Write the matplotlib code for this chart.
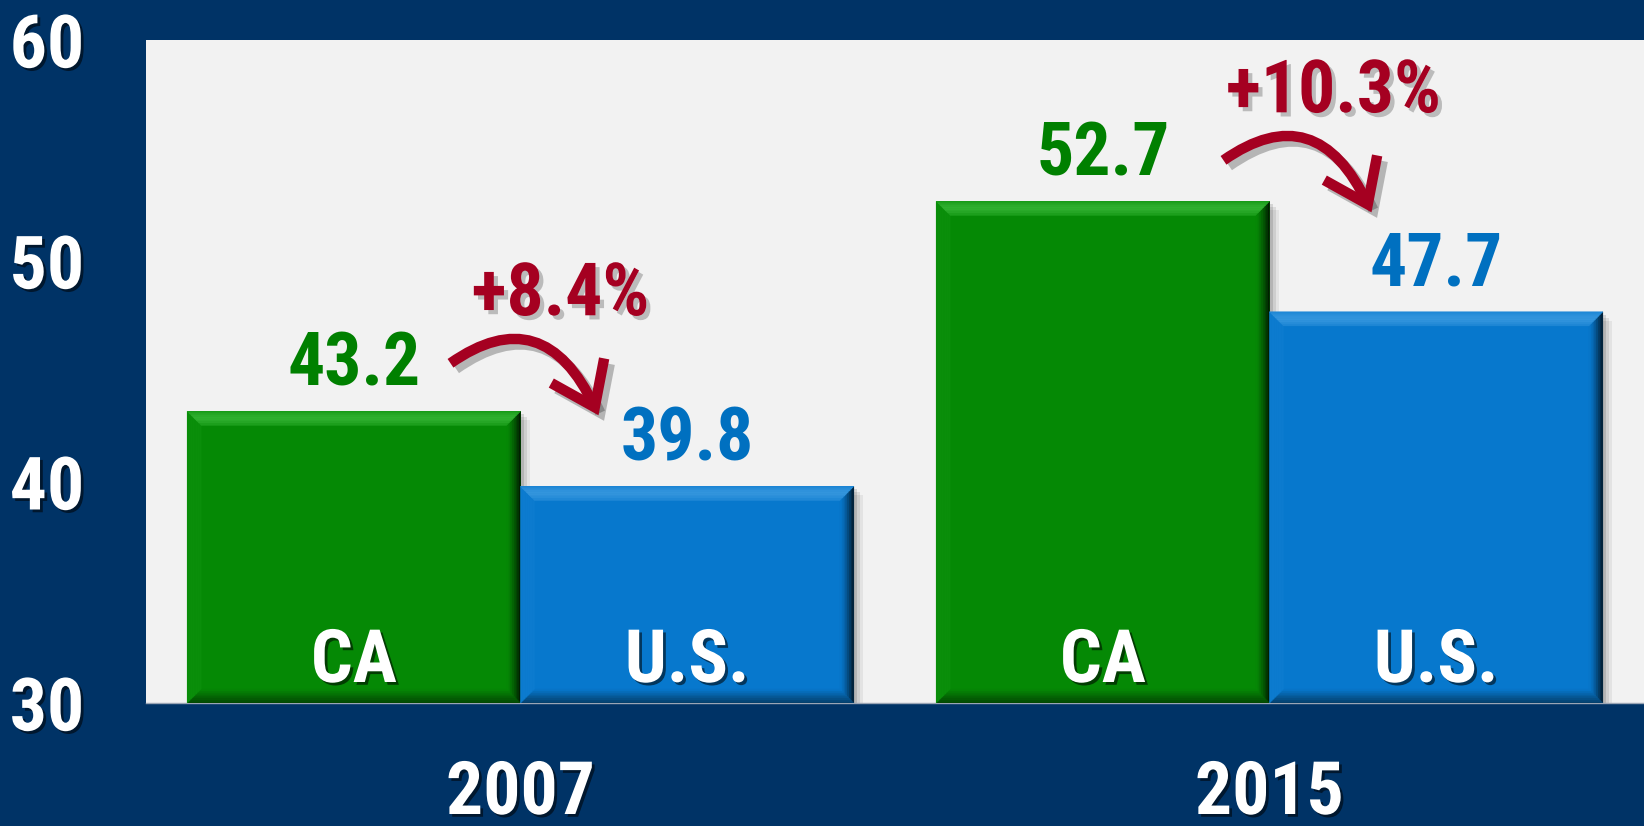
import matplotlib
matplotlib.use('Agg')
import matplotlib.pyplot as plt
import matplotlib.patheffects as pe
from matplotlib import font_manager
from matplotlib.patches import Polygon, FancyArrowPatch, Rectangle
from matplotlib.colors import to_rgb
import numpy as np

# ---------------- data ----------------
years = ['2007', '2015']
series_names = ['CA', 'U.S.']
ca_values = [43.2, 52.7]
us_values = [39.8, 47.7]
pct_labels = ['+8.4%', '+10.3%']
y_ticks = [30, 40, 50, 60]

# ---------------- style / layout ----------------
W, H, DPI = 1644, 826, 100
NAVY = '#003366'
PLOT_BG = '#F2F2F2'
GREEN = '#058905'
BLUE = '#0778CD'
GREEN_HI = '#2FB02F'
BLUE_HI = '#3395DD'
GREEN_TXT = '#008000'
BLUE_TXT = '#0070C0'
RED = '#A50021'
PT = 72.0 / DPI  # points per pixel

# choose a condensed bold sans if available
_fonts = font_manager.fontManager.ttflist
_names = {f.name for f in _fonts}
FONT = None
STRETCH = 'normal'
SIZE_SCALE = 1.0
for cand in ['Liberation Sans Narrow', 'Arial Narrow', 'Roboto Condensed',
             'Nimbus Sans Narrow', 'Open Sans Condensed', 'Noto Sans Display']:
    if cand in _names:
        FONT = [cand, 'DejaVu Sans']
        break
if FONT is None:
    if any(f.name == 'DejaVu Sans' and f.stretch in ('condensed', 'semi-condensed')
           and f.weight in ('bold', 700) for f in _fonts):
        FONT = ['DejaVu Sans']
        STRETCH = 'condensed'
        SIZE_SCALE = 0.93
    else:
        FONT = ['Roboto', 'Liberation Sans', 'DejaVu Sans']
        STRETCH = 'condensed'
        SIZE_SCALE = 0.93

FS = 53 * SIZE_SCALE

fig = plt.figure(figsize=(W / DPI, H / DPI), dpi=DPI, facecolor=NAVY)
L, T, B = 146, 40, 703
ax = fig.add_axes([L / W, (H - B) / H, (W - L) / W, (B - T) / H])
ax.set_facecolor(PLOT_BG)
ax.set_xlim(-0.5, 1.5)
ax.set_ylim(30, 60)

sx = (ax.get_xlim()[1] - ax.get_xlim()[0]) / (W - L)
sy = (ax.get_ylim()[1] - ax.get_ylim()[0]) / (B - T)


def mix(c1, c2, t):
    a, b = np.array(to_rgb(c1)), np.array(to_rgb(c2))
    return tuple(a * (1 - t) + b * t)


x = np.arange(len(years))
w = 0.445
bars_ca = ax.bar(x - w / 2, ca_values, w, color=GREEN, zorder=3)
bars_us = ax.bar(x + w / 2, us_values, w, color=BLUE, zorder=3)


def decorate(patch, body, hi, b_px=14, n=8):
    x0 = patch.get_x()
    x1 = x0 + patch.get_width()
    y0 = max(patch.get_y(), ax.get_ylim()[0])
    y1 = patch.get_y() + patch.get_height()
    # soft shadow to the right
    for k, a in [(9, 0.06), (6, 0.09), (3, 0.12)]:
        ax.add_patch(Rectangle((x0 + k * sx, y0), x1 - x0, (y1 - y0) - k * sy,
                               facecolor='black', edgecolor='none', alpha=a, zorder=2))
    bx, by = b_px * sx, b_px * sy
    for i in range(n):
        t0, t1 = i / n, (i + 1) / n
        tm = (t0 + t1) / 2
        ox0, ox1, oy0, oy1 = x0 + t0 * bx, x1 - t0 * bx, y0 + t0 * by, y1 - t0 * by
        ix0, ix1, iy0, iy1 = x0 + t1 * bx, x1 - t1 * bx, y0 + t1 * by, y1 - t1 * by
        sides = [
            ([(ox1, oy1), (ox1, oy0), (ix1, iy0), (ix1, iy1)], mix(body, 'black', 0.85 * (1 - tm) ** 1.4)),
            ([(ox1, oy0), (ox0, oy0), (ix0, iy0), (ix1, iy0)], mix(body, 'black', 0.5 * (1 - tm))),
            ([(ox0, oy0), (ox0, oy1), (ix0, iy1), (ix0, iy0)], mix(body, hi, 0.12)),
            ([(ox0, oy1), (ox1, oy1), (ix1, iy1), (ix0, iy1)],
             mix(body, hi, 0.45 + 0.55 * np.sin(np.pi * tm))),
        ]
        for poly, c in sides:
            ax.add_patch(Polygon(poly, closed=True, facecolor=c, edgecolor=c,
                                 lw=0.4, zorder=4))


for p in bars_ca:
    decorate(p, GREEN, GREEN_HI)
for p in bars_us:
    decorate(p, BLUE, BLUE_HI)

white_fx = [pe.withSimplePatchShadow(offset=(2, -2), shadow_rgbFace='black', alpha=0.55)]
red_fx = [pe.withSimplePatchShadow(offset=(3, -3), shadow_rgbFace='#555555', alpha=0.35)]

txt_kw = dict(fontsize=FS, fontweight='bold', family=FONT, fontstretch=STRETCH)

# value labels and series labels
for bars, vals, col, name in [(bars_ca, ca_values, GREEN_TXT, series_names[0]),
                              (bars_us, us_values, BLUE_TXT, series_names[1])]:
    for p, v in zip(bars, vals):
        cx = p.get_x() + p.get_width() / 2
        ax.annotate(f'{v:.1f}', xy=(cx, v), xytext=(0, 26 * PT), textcoords='offset points',
                    ha='center', va='baseline', color=col, zorder=6, **txt_kw)
        ax.annotate(name, xy=(cx, ax.get_ylim()[0]), xytext=(0, 21 * PT),
                    textcoords='offset points', ha='center', va='baseline',
                    color='white', zorder=6, path_effects=white_fx, **txt_kw)

# percentage labels with curved arrows
pct_offset_px = [(40, 96), (64, 89)]   # from CA bar top-right corner to label baseline centre
arrow_start_px = (-110, -48)           # relative to label baseline centre
arrow_tip_px = (38, -100)
inv = ax.transData.inverted()
for i, p in enumerate(bars_ca):
    corner = ax.transData.transform((p.get_x() + p.get_width(), ca_values[i]))
    base = corner + np.array(pct_offset_px[i])
    bx_, by_ = inv.transform(base)
    ax.text(bx_, by_, pct_labels[i], ha='center', va='baseline', color=RED,
            zorder=7, path_effects=red_fx, **txt_kw)
    start = inv.transform(base + np.array(arrow_start_px))
    tip = inv.transform(base + np.array(arrow_tip_px))
    arr = FancyArrowPatch(start, tip, connectionstyle='angle3,angleA=35,angleB=-65',
                          arrowstyle='->,head_length=1.45,head_width=1.05',
                          mutation_scale=20, lw=7.5, color=RED, shrinkA=0, shrinkB=0,
                          zorder=7, clip_on=False, capstyle='butt', joinstyle='miter')
    arr.set_path_effects([pe.SimpleLineShadow(offset=(4, -4), shadow_color='black', alpha=0.25),
                          pe.Normal()])
    ax.add_patch(arr)

# axes styling
ax.set_yticks(y_ticks)
ax.set_yticklabels([str(t) for t in y_ticks])
ax.set_xticks(x)
ax.set_xticklabels(years)
ax.tick_params(axis='y', length=0, pad=99 * PT, labelcolor='white')
ax.tick_params(axis='x', length=0, pad=56 * PT, labelcolor='white')
for lab in ax.get_yticklabels():
    lab.set_fontsize(FS)
    lab.set_fontweight('bold')
    lab.set_family(FONT)
    lab.set_fontstretch(STRETCH)
    lab.set_horizontalalignment('center')
    lab.set_path_effects(white_fx)
for lab in ax.get_xticklabels():
    lab.set_fontsize(FS)
    lab.set_fontweight('bold')
    lab.set_family(FONT)
    lab.set_fontstretch(STRETCH)
    lab.set_path_effects(white_fx)
for s in ['top', 'right', 'left']:
    ax.spines[s].set_visible(False)
ax.spines['bottom'].set_color('#9AA5B5')
ax.spines['bottom'].set_linewidth(1.0)

fig.savefig('out.png', dpi=DPI, facecolor=NAVY)
